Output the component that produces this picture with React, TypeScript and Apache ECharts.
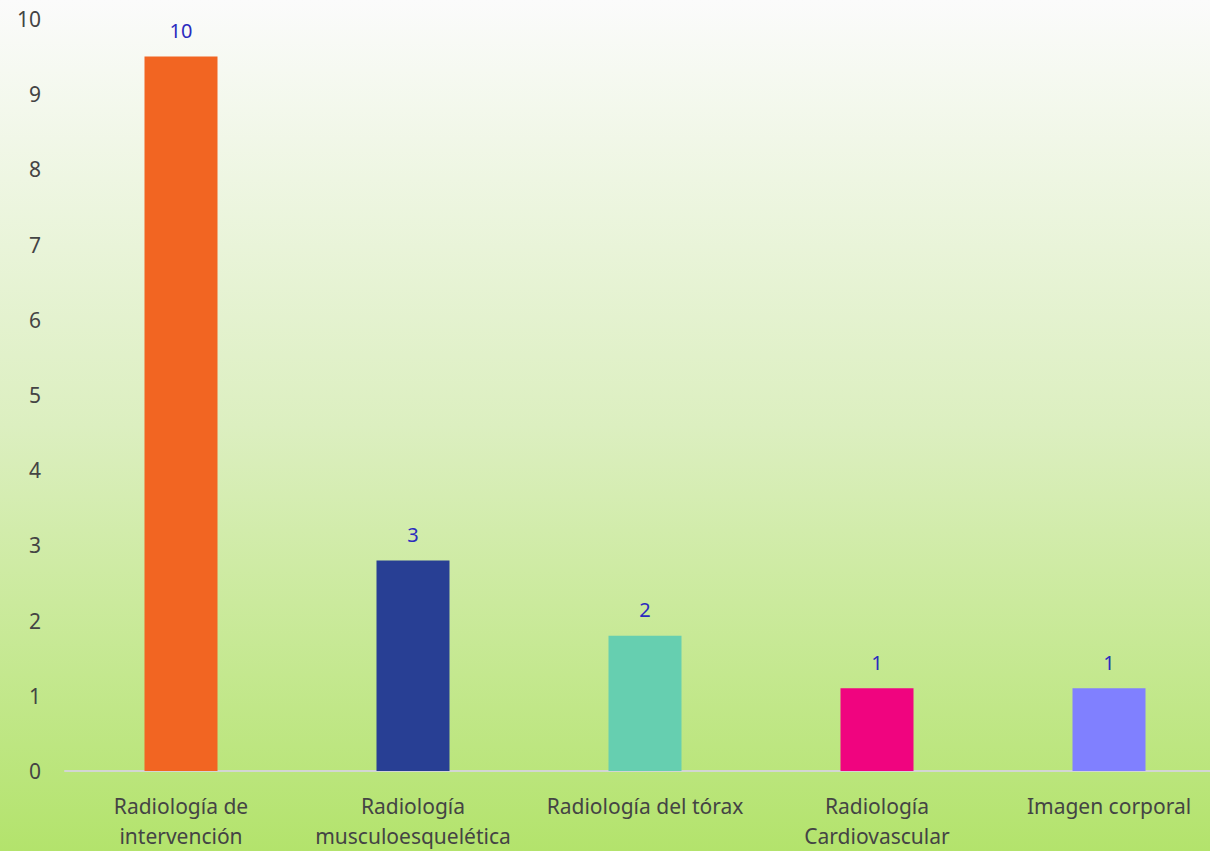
import React, { useEffect, useRef } from "react";
import * as echarts from "echarts";

const categories = [
  "Radiología de\nintervención",
  "Radiología\nmusculoesquelética",
  "Radiología del tórax",
  "Radiología\nCardiovascular",
  "Imagen corporal",
];
const values = [9.5, 2.8, 1.8, 1.1, 1.1];
const colors = ["#f26522", "#283f94", "#66cfb0", "#f0047f", "#8080ff"];
const yTicks = [0, 10, 1];

export default function App() {
  const ref = useRef<HTMLDivElement>(null);
  useEffect(() => {
    if (!ref.current) return;
    document.body.style.margin = "0";
    document.body.style.overflow = "hidden";
    const chart = echarts.init(ref.current, null, { renderer: "svg" });
    chart.setOption({
      animation: false,
      backgroundColor: {
        type: "linear",
        x: 0,
        y: 0,
        x2: 0,
        y2: 1,
        colorStops: [
          { offset: 0, color: "#fbfbfb" },
          { offset: 0.5, color: "#dcefc0" },
          { offset: 1, color: "#b3e36c" },
        ],
      },
      grid: { left: 65, right: 0, top: 19, bottom: 74 },
      xAxis: {
        type: "category",
        data: categories,
        axisLine: { show: true, lineStyle: { color: "#d3d6d3", width: 2 } },
        axisTick: { show: false },
        axisLabel: {
          color: "#444444",
          fontFamily: "Noto Sans",
          fontSize: 21,
          lineHeight: 30,
          margin: 20,
          interval: 0,
        },
      },
      yAxis: {
        type: "value",
        min: yTicks[0],
        max: yTicks[1],
        interval: yTicks[2],
        splitLine: { show: false },
        axisLine: { show: false },
        axisTick: { show: false },
        axisLabel: {
          color: "#444444",
          fontFamily: "Noto Sans",
          fontSize: 21,
          margin: 24,
        },
      },
      series: [
        {
          type: "bar",
          barWidth: 73,
          data: values.map((v, i) => ({ value: v, itemStyle: { color: colors[i] } })),
          label: {
            show: true,
            position: "top",
            distance: 16,
            color: "#2b2bbf",
            fontFamily: "Noto Sans",
            fontSize: 20,
            formatter: (p: any) => String(Math.round(p.value)),
          },
        },
      ],
    });
    return () => chart.dispose();
  }, []);
  return (
    <div
      style={{
        position: "fixed",
        left: 0,
        top: 0,
        width: 1210,
        height: 851,
        overflow: "hidden",
      }}
    >
      <div ref={ref} style={{ width: 1225, height: 851 }} />
    </div>
  );
}
